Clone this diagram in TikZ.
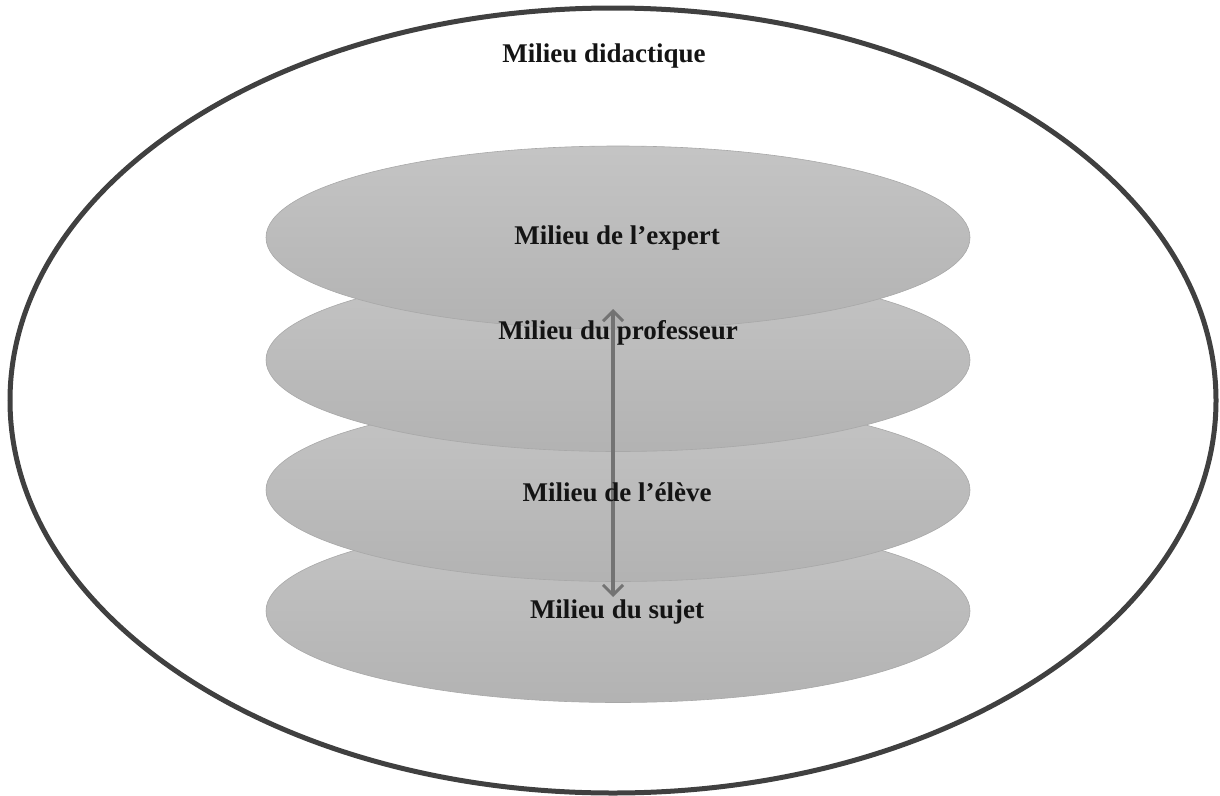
\documentclass[tikz,border=0pt]{standalone}
\usepackage{fontspec}
\setmainfont{Liberation Serif}
\usetikzlibrary{shapes.geometric,arrows.meta}
\begin{document}
\begin{tikzpicture}[x=1pt,y=-1pt,
  layer/.style={ellipse, inner sep=0pt, minimum width=704pt, minimum height=183pt,
    top color=black!23, bottom color=black!30, draw=black!34, line width=0.6pt},
  outer/.style={ellipse, inner sep=0pt, minimum width=1206pt, minimum height=785pt,
    draw=black!75, line width=5pt},
  lbl/.style={font=\fontsize{27}{30}\selectfont\bfseries, text=black!92, inner sep=0pt},
  link/.style={draw=black!55, line width=3.2pt,
    {Straight Barb[length=10pt,width=20pt,line width=3pt]}-{Straight Barb[length=10pt,width=20pt,line width=3pt]}}
]
\useasboundingbox (0,0) rectangle (1220,795);
\node[outer] (didactique) at (613,400.5) {};
\node[lbl] (tdid) at (604,56) {Milieu didactique};
% layers, bottom first
\node[layer] (sujet) at (618,611) {};
\node[layer] (eleve) at (618,490) {};
\node[layer] (prof) at (618,360) {};
\node[layer] (expert) at (618,237.5) {};
% arrow
\coordinate (atop) at (613,309);
\coordinate (abot) at (613,597);
\draw[link] (atop) -- (abot);
% labels
\node[lbl] (texpert) at (617,238) {Milieu de l’expert};
\node[lbl] (tprof) at (618,333) {Milieu du professeur};
\node[lbl] (televe) at (617,492) {Milieu de l’élève};
\node[lbl] (tsujet) at (617,612) {Milieu du sujet};
\end{tikzpicture}
\end{document}
